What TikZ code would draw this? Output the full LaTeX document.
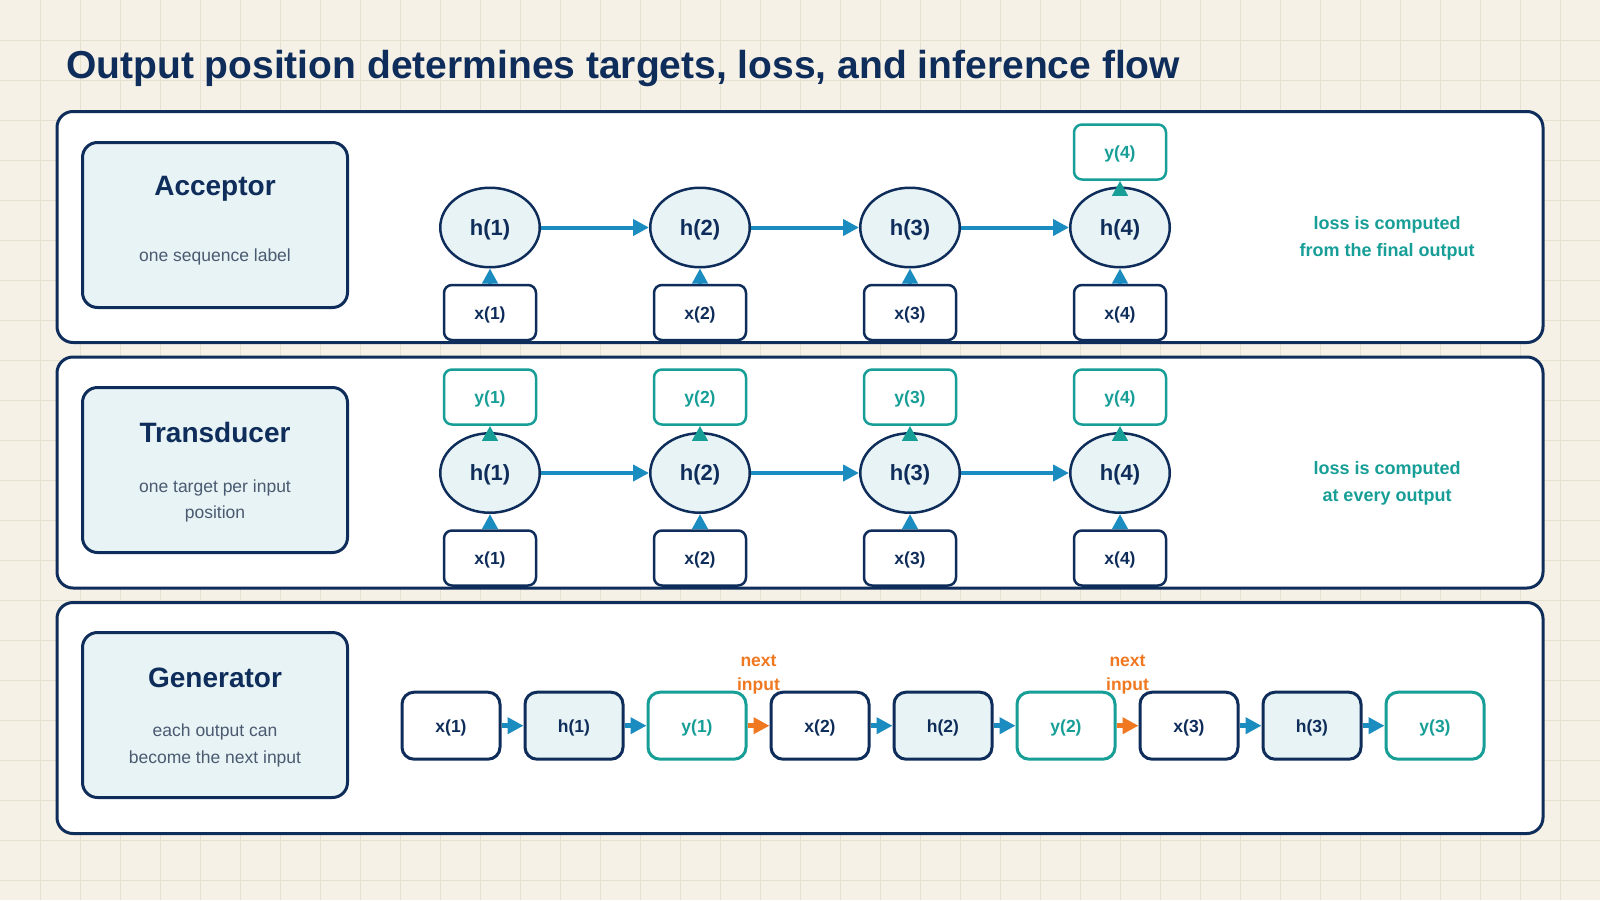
\documentclass[tikz,border=0pt]{standalone}
\usepackage{fontspec}
\setmainfont{Liberation Sans}
\usetikzlibrary{shapes.geometric,arrows.meta}
\definecolor{bgc}{HTML}{F5F1E6}
\definecolor{gridc}{HTML}{E6E0D1}
\definecolor{navy}{HTML}{0F2D5A}
\definecolor{lightfill}{HTML}{E8F3F5}
\definecolor{tealc}{HTML}{169E97}
\definecolor{bluec}{HTML}{1B8CBF}
\definecolor{orangec}{HTML}{F07820}
\definecolor{subc}{HTML}{4A5A70}
\tikzset{
  gridline/.style={draw=gridc, line width=1.3pt},
  panel/.style={draw=navy, line width=3pt, fill=white, rounded corners=16pt, minimum width=1486pt, minimum height=231pt, inner sep=0pt},
  lblbox/.style={draw=navy, line width=3pt, fill=lightfill, rounded corners=15pt, minimum width=265pt, minimum height=165pt, inner sep=0pt},
  lbltitle/.style={font=\bfseries\fontsize{28}{32}\selectfont, text=navy},
  lblsub/.style={font=\fontsize{17.5}{26.5}\selectfont, text=subc, align=center},
  hnode/.style={ellipse, draw=navy, line width=2.5pt, fill=lightfill, minimum width=99.5pt, minimum height=79.5pt, inner sep=0pt, font=\bfseries\fontsize{22}{26}\selectfont, text=navy, text height=20pt, text depth=4.7pt},
  xbox/.style={rectangle, rounded corners=8pt, draw=navy, line width=2.5pt, fill=white, minimum width=92pt, minimum height=55pt, inner sep=0pt, font=\bfseries\fontsize{17.5}{20}\selectfont, text=navy, text height=16.7pt, text depth=3.7pt},
  ybox/.style={xbox, draw=tealc, text=tealc},
  gbox/.style={rectangle, rounded corners=12pt, draw=navy, line width=3pt, fill=white, minimum width=98pt, minimum height=67pt, inner sep=0pt, font=\bfseries\fontsize{17.5}{20}\selectfont, text=navy, text height=16.7pt, text depth=3.7pt},
  gx/.style={gbox},
  gh/.style={gbox, fill=lightfill},
  gy/.style={gbox, draw=tealc, text=tealc},
  harrow/.style={draw=bluec, line width=4pt, -{Triangle[length=16pt,width=16pt]}},
  varrow/.style={draw=bluec, line width=4pt, -{Triangle[length=15pt,width=15pt]}},
  tarrow/.style={draw=tealc, line width=4pt, -{Triangle[length=15pt,width=15pt]}},
  garrow/.style={draw=bluec, line width=4.5pt, -{Triangle[length=16pt,width=16pt]}},
  oarrow/.style={draw=orangec, line width=4.5pt, -{Triangle[length=16pt,width=16pt]}},
  losstext/.style={font=\bfseries\fontsize{18}{27}\selectfont, text=tealc, align=center},
  nexttext/.style={font=\bfseries\fontsize{17.5}{24}\selectfont, text=orangec, align=center},
}
\begin{document}
\begin{tikzpicture}[x=1pt,y=-1pt]
\useasboundingbox (0,0) rectangle (1600,900);
\fill[bgc] (0,0) rectangle (1600,900);
\foreach \i in {40,80,...,1560} \draw[gridline] (\i+0.5,0) -- (\i+0.5,900);
\foreach \j in {40,80,...,880} \draw[gridline] (0,\j+0.5) -- (1600,\j+0.5);

\node[anchor=base west, font=\bfseries\fontsize{39}{44}\selectfont, text=navy, inner sep=0pt] (title) at (66,78.5) {Output position determines targets, loss, and inference flow};

% panels
\node[panel] (p1) at (800,227) {};
\node[panel] (p2) at (800,472.5) {};
\node[panel] (p3) at (800,718) {};

% label boxes
\node[lblbox] (l1) at (215,225) {};
\node[lblbox] (l2) at (215,470) {};
\node[lblbox] (l3) at (215,715) {};
\node[lbltitle] (l1t) at (215,189) {Acceptor};
\node[lblsub] (l1s) at (215,256.5) {one sequence label};
\node[lbltitle] (l2t) at (215,432.5) {Transducer};
\node[lblsub] (l2s) at (215,501) {one target per input\\position};
\node[lbltitle] (l3t) at (215,677.5) {Generator};
\node[lblsub] (l3s) at (215,745.5) {each output can\\become the next input};

% acceptor
\foreach \k/\xx in {1/490,2/700,3/910,4/1120}{
  \node[hnode] (ah\k) at (\xx,227.5) {h(\k)};
  \node[xbox] (ax\k) at (\xx,312.5) {x(\k)};
}
\node[ybox] (ay4) at (1120,152) {y(4)};
\foreach \a/\b in {1/2,2/3,3/4} \draw[harrow] (ah\a) -- (ah\b);
\foreach \k in {1,2,3,4} \draw[varrow] (ax\k) -- (ah\k);
\draw[tarrow] (ah4) -- (ay4);
\node[losstext] (loss1) at (1387,238.5) {loss is computed\\from the final output};

% transducer
\foreach \k/\xx in {1/490,2/700,3/910,4/1120}{
  \node[hnode] (th\k) at (\xx,473) {h(\k)};
  \node[xbox] (tx\k) at (\xx,558) {x(\k)};
  \node[ybox] (ty\k) at (\xx,397) {y(\k)};
}
\foreach \a/\b in {1/2,2/3,3/4} \draw[harrow] (th\a) -- (th\b);
\foreach \k in {1,2,3,4} {\draw[varrow] (tx\k) -- (th\k); \draw[tarrow] (th\k) -- (ty\k);}
\node[losstext] (loss2) at (1387,483) {loss is computed\\at every output};

% generator
\node[gx] (gx1) at (451,725.7) {x(1)};
\node[gh] (gh1) at (574,725.7) {h(1)};
\node[gy] (gy1) at (697,725.7) {y(1)};
\node[gx] (gx2) at (820,725.7) {x(2)};
\node[gh] (gh2) at (943,725.7) {h(2)};
\node[gy] (gy2) at (1066,725.7) {y(2)};
\node[gx] (gx3) at (1189,725.7) {x(3)};
\node[gh] (gh3) at (1312,725.7) {h(3)};
\node[gy] (gy3) at (1435,725.7) {y(3)};
\foreach \k in {1,2,3} {\draw[garrow] (gx\k) -- (gh\k); \draw[garrow] (gh\k) -- (gy\k);}
\draw[oarrow] (gy1) -- (gx2);
\draw[oarrow] (gy2) -- (gx3);
\node[nexttext] (n1) at (758.5,675) {next\\input};
\node[nexttext] (n2) at (1127.5,675) {next\\input};
\end{tikzpicture}
\end{document}
